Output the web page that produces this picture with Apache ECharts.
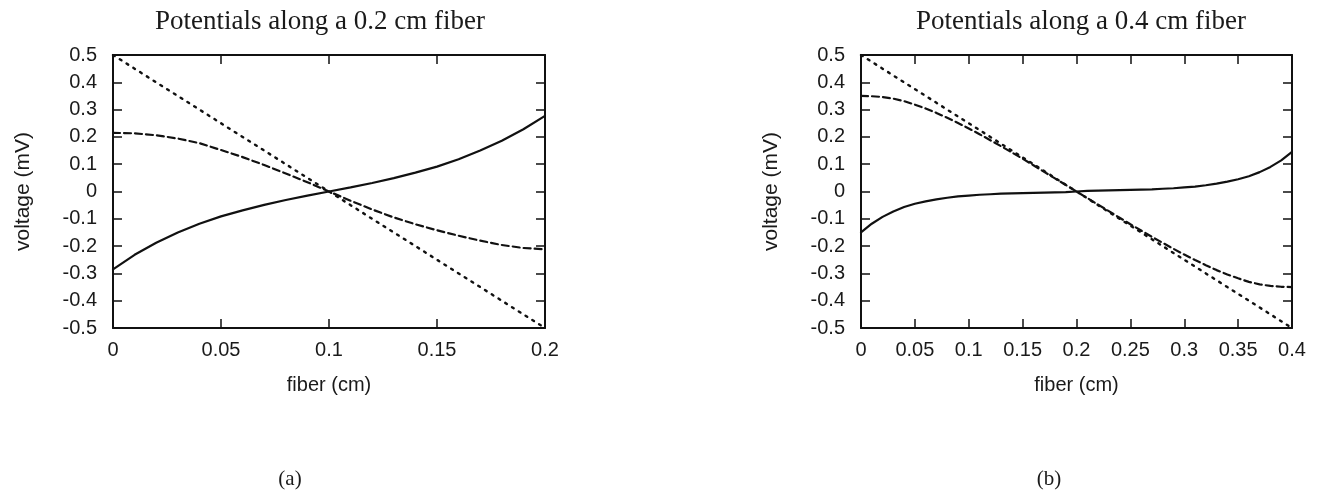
<!DOCTYPE html>
<html>
<head>
<meta charset="utf-8">
<script src="https://cdn.jsdelivr.net/npm/echarts@6/dist/echarts.min.js"></script>
<style>
html,body{margin:0;padding:0;background:#fff;}
#c{width:1331px;height:498px;}
</style>
</head>
<body>
<div id="c"></div>
<script>
// ---------- data ----------
const titleA = 'Potentials along a 0.2 cm fiber';
const titleB = 'Potentials along a 0.4 cm fiber';
const xName = 'fiber (cm)';
const yName = 'voltage (mV)';
const panelLabels = ['(a)', '(b)'];

const xA = [0,0.01,0.02,0.03,0.04,0.05,0.06,0.07,0.08,0.09,0.10,0.11,0.12,0.13,0.14,0.15,0.16,0.17,0.18,0.19,0.20];
const solidA = [-0.285,-0.232,-0.188,-0.150,-0.118,-0.091,-0.069,-0.049,-0.031,-0.015,0,0.015,0.031,0.049,0.069,0.091,0.118,0.150,0.186,0.228,0.277];
const dashedA = [0.215,0.213,0.206,0.194,0.177,0.152,0.126,0.097,0.066,0.034,0,-0.034,-0.066,-0.095,-0.120,-0.142,-0.162,-0.180,-0.196,-0.207,-0.212];
const dottedA = [0.5,0.45,0.4,0.35,0.3,0.25,0.2,0.15,0.1,0.05,0,-0.05,-0.1,-0.15,-0.2,-0.25,-0.3,-0.35,-0.4,-0.45,-0.5];

const xB = [0,0.01,0.02,0.03,0.04,0.05,0.06,0.07,0.08,0.09,0.10,0.11,0.12,0.13,0.14,0.15,0.16,0.17,0.18,0.19,0.20,
            0.21,0.22,0.23,0.24,0.25,0.26,0.27,0.28,0.29,0.30,0.31,0.32,0.33,0.34,0.35,0.36,0.37,0.38,0.39,0.40];
const solidB = [-0.150,-0.118,-0.093,-0.073,-0.057,-0.045,-0.036,-0.029,-0.023,-0.018,-0.015,-0.012,-0.010,-0.008,-0.007,-0.006,-0.005,-0.004,-0.003,-0.002,0,
                0.002,0.003,0.004,0.005,0.006,0.007,0.008,0.010,0.012,0.015,0.018,0.023,0.029,0.036,0.045,0.056,0.071,0.090,0.114,0.145];
const dashedB = [0.350,0.349,0.346,0.340,0.331,0.318,0.304,0.288,0.270,0.251,0.231,0.210,0.188,0.166,0.143,0.120,0.096,0.072,0.048,0.024,0,
                 -0.024,-0.048,-0.072,-0.096,-0.120,-0.143,-0.166,-0.188,-0.210,-0.231,-0.251,-0.270,-0.288,-0.304,-0.318,-0.331,-0.340,-0.346,-0.349,-0.350];
const dottedB = [0.5,0.475,0.45,0.425,0.4,0.375,0.35,0.325,0.3,0.275,0.25,0.225,0.2,0.175,0.15,0.125,0.1,0.075,0.05,0.025,0,
                 -0.025,-0.05,-0.075,-0.1,-0.125,-0.15,-0.175,-0.2,-0.225,-0.25,-0.275,-0.3,-0.325,-0.35,-0.375,-0.4,-0.425,-0.45,-0.475,-0.5];

const xMaxA = 0.2, xMaxB = 0.4, xStep = 0.05;
const yMin = -0.5, yMax = 0.5, yStep = 0.1;

// ---------- chart ----------
const chart = echarts.init(document.getElementById('c'), null, {renderer: 'canvas'});
const INK = '#111';
const TXT = '#1a1a1a';
const sans = 'Liberation Sans, Arial, sans-serif';
const serif = 'Liberation Serif, Times New Roman, serif';
const fmt = v => String(+(+v).toFixed(3));

function pairs(xs, ys){ return xs.map((x,i)=>[x, ys[i]]); }

function xAxes(grid, max){
  const base = {
    type:'value', gridIndex:grid, min:0, max:max, interval:xStep,
    splitLine:{show:false},
    axisLine:{show:true, onZero:false, lineStyle:{color:INK, width:2}},
    axisTick:{show:true, inside:true, length:9, lineStyle:{color:INK, width:1.5}}
  };
  return [
    Object.assign({}, base, {position:'bottom',
      name:xName, nameLocation:'middle', nameGap:47,
      nameTextStyle:{fontFamily:sans, fontSize:20, color:TXT},
      axisLabel:{show:true, margin:12, fontFamily:sans, fontSize:20, color:TXT, formatter:fmt, showMinLabel:true, showMaxLabel:true}}),
    Object.assign({}, base, {position:'top', axisLabel:{show:false}})
  ];
}
function yAxes(grid){
  const base = {
    type:'value', gridIndex:grid, min:yMin, max:yMax, interval:yStep,
    splitLine:{show:false},
    axisLine:{show:true, onZero:false, lineStyle:{color:INK, width:2}},
    axisTick:{show:true, inside:true, length:9, lineStyle:{color:INK, width:1.5}}
  };
  return [
    Object.assign({}, base, {position:'left',
      name:yName, nameLocation:'middle', nameGap:79, nameRotate:90,
      nameTextStyle:{fontFamily:sans, fontSize:21, color:TXT},
      axisLabel:{show:true, margin:16, fontFamily:sans, fontSize:20, color:TXT, formatter:fmt, showMinLabel:true, showMaxLabel:true}}),
    Object.assign({}, base, {position:'right', axisLabel:{show:false}})
  ];
}

function lineSeries(xi, yi, data, type, width, z){
  return {
    type:'line', xAxisIndex:xi, yAxisIndex:yi, data:data,
    showSymbol:false, symbol:'none', smooth:false, silent:true, z:z,
    lineStyle:{color:INK, width:width, type:type, cap:'round'}
  };
}

const option = {
  animation:false,
  backgroundColor:'#fff',
  title:[
    {text:titleA, left:315, top:3, textAlign:'center',
     textStyle:{fontFamily:serif, fontSize:27, fontWeight:'normal', color:TXT}},
    {text:titleB, left:1076, top:3, textAlign:'center',
     textStyle:{fontFamily:serif, fontSize:27, fontWeight:'normal', color:TXT}},
    {text:panelLabels[0], left:285, top:464, textAlign:'center',
     textStyle:{fontFamily:serif, fontSize:21, fontWeight:'normal', color:TXT}},
    {text:panelLabels[1], left:1044, top:464, textAlign:'center',
     textStyle:{fontFamily:serif, fontSize:21, fontWeight:'normal', color:TXT}}
  ],
  grid:[
    {left:113, top:55, width:432, height:273, containLabel:false},
    {left:861, top:55, width:431, height:273, containLabel:false}
  ],
  xAxis:[...xAxes(0, xMaxA), ...xAxes(1, xMaxB)],
  yAxis:[...yAxes(0), ...yAxes(1)],
  series:[
    lineSeries(0, 0, pairs(xA, dottedA), [2, 6], 2.4, 2),
    lineSeries(0, 0, pairs(xA, dashedA), [7, 4], 2.2, 3),
    lineSeries(0, 0, pairs(xA, solidA), 'solid', 2.2, 4),
    lineSeries(2, 2, pairs(xB, dottedB), [2, 6], 2.4, 2),
    lineSeries(2, 2, pairs(xB, dashedB), [7, 4], 2.2, 3),
    lineSeries(2, 2, pairs(xB, solidB), 'solid', 2.2, 4)
  ]
};
chart.setOption(option);
</script>
</body>
</html>
